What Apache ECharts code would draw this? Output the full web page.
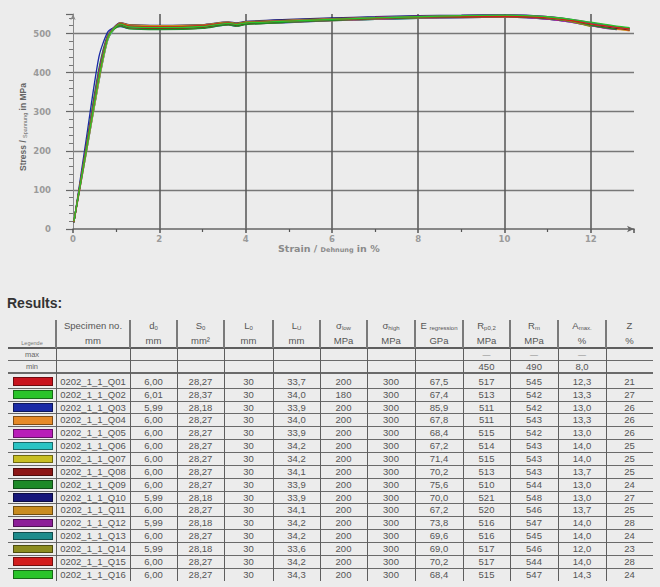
<!DOCTYPE html>
<html>
<head>
<meta charset="utf-8">
<script src="https://cdn.jsdelivr.net/npm/echarts@6/dist/echarts.min.js"></script>
<style>
  html, body { margin:0; padding:0; background:#ececec; width:660px; height:587px; overflow:hidden; }
  #chart { position:absolute; left:0; top:0; width:660px; height:262px; }
  #table { position:absolute; left:0; top:0; width:660px; height:587px; font-family:"Liberation Sans", Arial, sans-serif; color:#555; }
  .t { position:absolute; text-align:center; white-space:nowrap; font-size:9.5px; height:14px; line-height:14px; }
  .t sub { font-size:6px; vertical-align:-1px; line-height:0; }
  .hl { position:absolute; background:#7a7a7a; }
  .vl { position:absolute; background:#7a7a7a; }
  .sw { position:absolute; box-sizing:border-box; border:1px solid rgba(0,0,0,0.45); }
</style>
</head>
<body>
<div id="chart"></div>
<div id="table"></div>
<script>
// ---------- chart data ----------
const strain = [0.02,0.3,0.6,0.8,0.95,1.1,1.3,2,3,3.6,3.8,4,5,6,7,8,9,10,10.5,11,11.5,12,12.3,12.6,12.9];
const stressQ01 = [17,190,378,482,512,525,519,517,519,526,523,528,532,536,539,542,544,545,544,540,533,522,516];
const stressQ02 = [20,198,385,487,513,522,515,513,516,524,521,525,529,533,536,539,541,542,541,537,531,521,516,512,508];
const stressQ03 = [16,225,440,503,515,518,513,511,514,522,519,524,528,533,536,539,541,542,541,537,530,520,515,511];
const stressQ04 = [19,192,380,484,510,520,514,511,514,523,520,524,529,533,537,540,542,543,542,538,531,521,515,511,507];
const stressQ05 = [18,194,382,486,513,523,517,515,517,525,522,526,530,534,537,540,541,542,541,537,530,520,514,510];
const stressQ06 = [21,190,377,481,511,522,516,514,517,525,522,526,530,534,538,541,542,543,542,539,533,524,519,515,511];
const stressQ07 = [19,203,394,491,514,523,517,515,518,526,523,527,531,535,538,541,542,543,542,539,533,524,519,514,510];
const stressQ08 = [18,199,389,488,512,522,515,513,516,524,521,525,530,534,538,541,542,543,542,538,532,523,518,513,509];
const stressQ09 = [17,210,410,496,512,519,512,510,513,522,519,523,529,534,538,541,543,544,543,539,532,521,515,510];
const stressQ10 = [18,200,390,490,516,528,523,521,523,530,527,531,536,540,543,546,547,548,547,543,536,526,520,515];
const stressQ11 = [20,192,379,483,513,527,522,520,522,529,526,530,534,538,541,544,545,546,545,541,535,525,520,516,512];
const stressQ12 = [19,206,402,494,515,525,518,516,519,527,524,528,533,537,541,544,546,547,546,543,537,528,522,517,513];
const stressQ13 = [18,201,392,490,514,524,518,516,519,527,524,528,532,536,540,543,544,545,544,541,535,526,521,516,512];
const stressQ14 = [17,199,389,489,514,525,519,517,520,528,525,529,533,537,540,543,545,546,545,540,532,518];
const stressQ15 = [19,202,392,490,514,525,519,517,520,527,524,528,532,536,539,542,543,544,543,540,534,525,520,516,512];
const stressQ16 = [20,197,387,487,513,524,517,515,518,526,523,527,532,536,540,543,546,547,546,543,537,529,524,519,515];

const curveStress = [stressQ01,stressQ02,stressQ03,stressQ04,stressQ05,stressQ06,stressQ07,stressQ08,
                     stressQ09,stressQ10,stressQ11,stressQ12,stressQ13,stressQ14,stressQ15,stressQ16];
const xTicks = [0,2,4,6,8,10,12];
const yTicks = [0,100,200,300,400,500];

// ---------- table data ----------
const specimens = ['0202_1_1_Q01','0202_1_1_Q02','0202_1_1_Q03','0202_1_1_Q04','0202_1_1_Q05','0202_1_1_Q06','0202_1_1_Q07','0202_1_1_Q08',
                   '0202_1_1_Q09','0202_1_1_Q10','0202_1_1_Q11','0202_1_1_Q12','0202_1_1_Q13','0202_1_1_Q14','0202_1_1_Q15','0202_1_1_Q16'];
const colors = ['#c8141e','#2ac42a','#1a2aa6','#e68a28','#b81eb8','#2ac4c4','#c8be22','#8c1616',
                '#1e8a28','#16167a','#c88c20','#8c1e98','#1e8c8c','#8c8c20','#d21e1e','#2ac42a'];
const d0 = [6.00,6.01,5.99,6.00,6.00,6.00,6.00,6.00,6.00,5.99,6.00,5.99,6.00,5.99,6.00,6.00];
const S0 = [28.27,28.37,28.18,28.27,28.27,28.27,28.27,28.27,28.27,28.18,28.27,28.18,28.27,28.18,28.27,28.27];
const L0 = [30,30,30,30,30,30,30,30,30,30,30,30,30,30,30,30];
const LU = [33.7,34.0,33.9,34.0,33.9,34.2,34.2,34.1,33.9,33.9,34.1,34.2,34.2,33.6,34.2,34.3];
const sigLow = [200,180,200,200,200,200,200,200,200,200,200,200,200,200,200,200];
const sigHigh = [300,300,300,300,300,300,300,300,300,300,300,300,300,300,300,300];
const Ereg = [67.5,67.4,85.9,67.8,68.4,67.2,71.4,70.2,75.6,70.0,67.2,73.8,69.6,69.0,70.2,68.4];
const Rp02 = [517,513,511,511,515,514,515,513,510,521,520,516,516,517,517,515];
const Rm = [545,542,542,543,542,543,543,543,544,548,546,547,545,546,544,547];
const Amax = [12.3,13.3,13.0,13.3,13.0,14.0,14.0,13.7,13.0,13.0,13.7,14.0,14.0,12.0,14.0,14.3];
const Zred = [21,27,26,26,26,25,25,25,24,27,25,28,24,23,28,24];
const headSymbols = ['Specimen no.','d<sub>0</sub>','S<sub>0</sub>','L<sub>0</sub>','L<sub>U</sub>','σ<sub>low</sub>','σ<sub>high</sub>','E <sub>regression</sub>','R<sub>p0,2</sub>','R<sub>m</sub>','A<sub>max.</sub>','Z'];
const headUnits = ['','mm','mm','mm²','mm','mm','MPa','MPa','GPa','MPa','MPa','%','%'];
const maxRow = ['','','','','','','','','—','—','—',''];
const minRow = ['','','','','','','','','450','490','8,0',''];

// ---------- chart ----------
const chart = echarts.init(document.getElementById('chart'), null, {renderer:'svg'});
const series = curveStress.map((arr, k) => ({
  type:'line', name:specimens[k], showSymbol:false, smooth:0.25,
  lineStyle:{color:colors[k], width:1.3}, itemStyle:{color:colors[k]},
  data: arr.map((v,i) => [strain[i], v])
}));
const tickFont = {color:'#9a9a9a', fontSize:8.5, fontWeight:'bold', fontFamily:'DejaVu Sans'};
chart.setOption({
  animation:false,
  backgroundColor:'#ececec',
  grid:{left:73, right:26, top:14, bottom:33},
  xAxis:{
    type:'value', min:0, max:13, interval:2,
    axisLine:{show:true, onZero:false, lineStyle:{color:'#666', width:1.5}, symbol:['none','arrow'], symbolSize:[5,7]},
    axisTick:{show:true, length:4, lineStyle:{color:'#555', width:1.5}},
    minorTick:{show:true, splitNumber:2, length:3, lineStyle:{color:'#555', width:1.2}},
    splitLine:{show:true, showMinLine:false, showMaxLine:false, lineStyle:{color:'#555', width:1.5}},
    axisLabel:Object.assign({margin:5, showMaxLabel:false,
      formatter:v => xTicks.indexOf(v) >= 0 ? String(v) : ''}, tickFont)
  },
  yAxis:{
    type:'value', min:0, max:550, interval:100,
    axisLine:{show:true, lineStyle:{color:'#888', width:1}, symbol:['none','arrow'], symbolSize:[4,6]},
    axisTick:{show:true, length:7, lineStyle:{color:'#666', width:1.2}},
    minorTick:{show:true, splitNumber:5, length:4, lineStyle:{color:'#777', width:1}},
    splitLine:{show:true, showMinLine:false, showMaxLine:false, lineStyle:{color:'#777', width:1.3}},
    axisLabel:Object.assign({margin:22, showMaxLabel:false,
      formatter:v => yTicks.indexOf(v) >= 0 ? String(v) : ''}, tickFont)
  },
  graphic:[
    {type:'text', x:23, y:127, rotation:Math.PI/2,
     style:{text:'Stress / {s|Spannung} in MPa', align:'center', verticalAlign:'middle',
            fill:'#666', fontSize:8.5, fontWeight:'bold', fontFamily:'Liberation Sans',
            rich:{s:{fontSize:5.5, fontWeight:'normal', fill:'#666', fontFamily:'Liberation Sans', verticalAlign:'bottom'}}}},
    {type:'text', x:278, y:248,
     style:{text:'Strain / {s|Dehnung} in %', align:'left', verticalAlign:'middle',
            fill:'#8a8a8a', fontSize:9.5, fontWeight:'bold', fontFamily:'DejaVu Sans',
            rich:{s:{fontSize:6.5, fill:'#8a8a8a', fontWeight:'bold', fontFamily:'DejaVu Sans', verticalAlign:'bottom'}}}}
  ],
  series: series
});

// ---------- table ----------
const T = document.getElementById('table');
const colX = [8,56,130,177,224,273,320,367,415,463,510,558,606,653];
function addText(html, c, cy, extra) {
  const d = document.createElement('div');
  d.className = 't';
  d.style.left = colX[c] + 'px';
  d.style.width = (colX[c+1] - colX[c]) + 'px';
  d.style.top = (cy - 7) + 'px';
  if (extra) Object.assign(d.style, extra);
  d.innerHTML = html;
  T.appendChild(d);
}
function hline(y, w, col) {
  const d = document.createElement('div'); d.className = 'hl';
  d.style.left = '8px'; d.style.width = (653-8) + 'px';
  d.style.top = Math.round(y - w/2) + 'px'; d.style.height = w + 'px';
  if (col) d.style.background = col;
  T.appendChild(d);
}
function vline(x, y1, y2, w, col) {
  const d = document.createElement('div'); d.className = 'vl';
  d.style.left = Math.round(x - w/2) + 'px'; d.style.width = w + 'px';
  d.style.top = y1 + 'px'; d.style.height = (y2 - y1) + 'px';
  if (col) d.style.background = col;
  T.appendChild(d);
}
const fmt = (v, n) => v.toFixed(n).replace('.', ',');

// title
const title = document.createElement('div');
title.textContent = 'Results:';
Object.assign(title.style, {position:'absolute', left:'7px', top:'295px', fontSize:'14px', fontWeight:'bold', color:'#333', fontFamily:'"Liberation Sans", Arial, sans-serif'});
T.appendChild(title);

// header
for (let c = 1; c < 13; c++) addText(headSymbols[c-1], c, 326);
for (let c = 0; c < 13; c++) if (headUnits[c]) addText(headUnits[c], c, 341);
addText('Legende', 0, 343, {fontSize:'5.5px', color:'#777'});
addText('max', 0, 354.5, {fontSize:'7.5px', color:'#666'});
addText('min', 0, 366.5, {fontSize:'7.5px', color:'#666'});
for (let c = 1; c < 13; c++) {
  if (maxRow[c-1]) addText(maxRow[c-1], c, 354.5, {fontSize:'8px', color:'#888'});
  if (minRow[c-1]) addText(minRow[c-1], c, 366.5);
}

// rows
const rowCenters = [];
for (let i = 0; i < 16; i++) rowCenters.push(i === 0 ? 381.5 : 394.7 + (i-1) * 12.85);
const cols = [specimens, d0.map(v=>fmt(v,2)), S0.map(v=>fmt(v,2)), L0.map(v=>String(v)), LU.map(v=>fmt(v,1)),
              sigLow.map(String), sigHigh.map(String), Ereg.map(v=>fmt(v,1)), Rp02.map(String), Rm.map(String),
              Amax.map(v=>fmt(v,1)), Zred.map(String)];
for (let i = 0; i < 16; i++) {
  const cy = rowCenters[i];
  const sw = document.createElement('div'); sw.className = 'sw';
  Object.assign(sw.style, {left:'12.5px', width:'40px', top:(cy-4.3)+'px', height:'8.6px', background:colors[i]});
  T.appendChild(sw);
  for (let c = 0; c < cols.length; c++) addText(cols[c][i], c+1, cy);
}

// lines
hline(348.3, 2, '#5e5e5e');
hline(360.2, 1, '#6a6a6a');
hline(372.8, 2, '#6a6a6a');
for (let i = 1; i < 16; i++) hline(rowCenters[i] - 6.42, 1, '#6a6a6a');
for (let c = 1; c < 13; c++) {
  vline(colX[c], 320, 348, 2, '#7a7a7a');
  vline(colX[c], 348, 581, 1, '#5e5e5e');
}
</script>
</body>
</html>
